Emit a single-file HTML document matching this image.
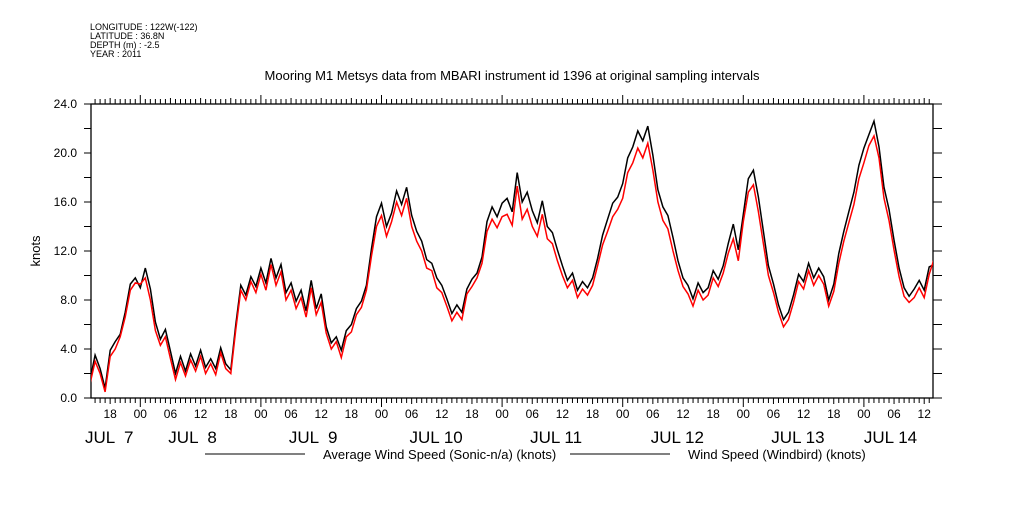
<!DOCTYPE html>
<html><head><meta charset="utf-8"><style>
body{margin:0;background:#fff;}
svg text{font-family:"Liberation Sans",sans-serif;fill:#000;}
</style></head><body>
<svg id="chart" width="1009" height="504" xmlns="http://www.w3.org/2000/svg">
<g font-size="9">
<text x="90" y="30">LONGITUDE : 122W(-122)</text>
<text x="90" y="39">LATITUDE : 36.8N</text>
<text x="90" y="48">DEPTH (m) : -2.5</text>
<text x="90" y="57">YEAR : 2011</text>
</g>
<text x="512" y="80" font-size="13" text-anchor="middle">Mooring M1 Metsys data from MBARI instrument id 1396 at original sampling intervals</text>
<text transform="translate(40,251) rotate(-90)" font-size="13" text-anchor="middle">knots</text>
<g id="axes"></g>
<g id="series"></g>
<g>
<line x1="205" y1="454" x2="305" y2="454" stroke="#000"/>
<text x="323" y="459" font-size="13">Average Wind Speed (Sonic-n/a) (knots)</text>
<line x1="570" y1="454" x2="670" y2="454" stroke="#000"/>
<text x="688" y="459" font-size="13">Wind Speed (Windbird) (knots)</text>
</g>
</svg>
<script>
// hours relative to JUL 8 00:00, one sample per hour
const startHour = -10;
const sonicKnots = [1.5,3.5,2.4,0.8,3.9,4.6,5.2,7.0,9.3,9.8,
9.0,10.6,8.9,6.2,4.8,5.6,3.8,2.0,3.4,2.2,
3.6,2.6,3.9,2.5,3.2,2.4,4.1,2.8,2.3,6.0,
9.2,8.4,9.9,9.1,10.6,9.4,11.4,9.8,10.9,8.6,
9.4,7.9,8.8,7.1,9.6,7.3,8.5,5.8,4.5,5.0,
3.9,5.5,6.0,7.3,7.9,9.2,12.2,14.8,15.9,14.0,
15.1,16.9,15.8,17.2,14.9,13.6,12.8,11.3,11.0,9.8,
9.2,8.1,6.9,7.6,7.0,8.9,9.7,10.2,11.5,14.4,
15.6,14.8,15.9,16.3,15.2,18.4,16.0,16.8,15.3,14.3,
16.1,14.0,13.5,12.1,10.8,9.6,10.2,8.8,9.5,9.0,
9.8,11.4,13.3,14.6,15.9,16.4,17.5,19.6,20.5,21.8,
21.0,22.2,19.8,17.0,15.6,14.9,13.1,11.2,9.8,9.2,
8.1,9.4,8.6,9.0,10.4,9.7,10.8,12.6,14.2,12.1,
15.0,17.9,18.6,16.4,13.6,10.8,9.3,7.6,6.4,7.0,
8.4,10.1,9.5,11.0,9.8,10.6,9.9,8.0,9.3,11.8,
13.6,15.2,16.8,19.0,20.4,21.5,22.6,20.5,17.2,15.4,
12.9,10.6,9.0,8.3,8.9,9.6,8.8,10.7,10.9];
const windbirdKnots = [1.2,3.0,2.0,0.5,3.4,4.0,5.0,6.6,8.8,9.4,
9.3,9.8,8.0,5.5,4.3,5.0,3.2,1.5,2.9,1.8,
3.1,2.2,3.4,2.0,2.8,1.9,3.7,2.4,2.0,5.6,
8.8,8.0,9.5,8.6,10.1,8.8,10.9,9.2,10.3,8.0,
8.8,7.3,8.2,6.6,9.0,6.8,7.8,5.3,4.0,4.6,
3.3,5.0,5.4,6.8,7.4,8.8,11.6,14.0,14.9,13.2,
14.4,16.0,14.9,16.3,14.0,12.8,12.0,10.6,10.4,9.0,
8.6,7.5,6.3,7.0,6.4,8.5,9.1,9.8,11.0,13.6,
14.6,13.9,14.8,15.0,14.1,17.3,14.6,15.4,14.0,13.2,
15.0,13.0,12.6,11.2,10.0,9.0,9.6,8.2,8.9,8.4,
9.2,10.8,12.5,13.6,14.8,15.4,16.3,18.4,19.2,20.4,
19.6,20.8,18.6,16.0,14.5,13.8,12.0,10.4,9.1,8.5,
7.5,8.8,8.0,8.4,9.8,9.1,10.2,11.8,13.0,11.2,
14.4,16.8,17.4,15.2,12.6,10.0,8.6,7.0,5.8,6.4,
7.8,9.5,8.9,10.4,9.2,10.0,9.3,7.5,8.7,11.0,
12.8,14.3,15.8,17.9,19.2,20.6,21.4,19.6,16.3,14.5,
12.1,9.9,8.3,7.8,8.2,9.0,8.2,10.1,11.4];
const yTickLabels = ["0.0","4.0","8.0","12.0","16.0","20.0","24.0"];
const hourLabels = ["18","00","06","12","18","00","06","12","18","00","06","12","18","00","06","12","18","00","06","12","18","00","06","12","18","00","06","12"];
const dayLabels = ["JUL  7","JUL  8","JUL  9","JUL 10","JUL 11","JUL 12","JUL 13","JUL 14"];

const NS="http://www.w3.org/2000/svg";
const L=91,R=933,T=104,B=398,Y0=0,Y1=24;
const X0=140.3, PXH=5.025;
const xOf=h=>X0+h*PXH;
const yOf=v=>B-(v-Y0)/(Y1-Y0)*(B-T);
const hMin=(L-X0)/PXH, hMax=(R-X0)/PXH;
function mk(tag,attrs,parent){const e=document.createElementNS(NS,tag);for(const k in attrs)e.setAttribute(k,attrs[k]);parent.appendChild(e);return e;}
const ax=document.getElementById('axes');
const frame=mk('rect',{x:L,y:T,width:R-L,height:B-T,fill:'none',stroke:'#000','stroke-width':1.3},ax);


for(let v=0;v<=24;v+=2){
  const y=yOf(v);
  const tl=mk('line',{x1:L-7,x2:L,y1:y,y2:y,stroke:'#000'},ax);
  
  
  const tr=mk('line',{x1:R,x2:R+9,y1:y,y2:y,stroke:'#000'},ax);
  
  
}
yTickLabels.forEach(s=>{
  const t=mk('text',{x:L-14,y:yOf(parseFloat(s))+4,'font-size':12,'text-anchor':'end'},ax);
  t.textContent=s;
  
  
});
for(let h=Math.ceil(hMin);h<=hMax;h++){
  const x=xOf(h), major=(h%24===0), mid=(h%6===0);
  const len=major?9:(mid?6:5);
  const tb=mk('line',{x1:x,x2:x,y1:B,y2:B+len,stroke:'#000'},ax);
  
  
  const tt=mk('line',{x1:x,x2:x,y1:T-len,y2:T,stroke:'#000'},ax);
  
  
}
hourLabels.forEach((s,i)=>{
  const h=-6+i*6;
  const t=mk('text',{x:xOf(h),y:418,'font-size':12,'text-anchor':'middle'},ax);
  t.textContent=s;
  
  
});
dayLabels.forEach((s,i)=>{
  let x;
  if(i===0) x=85; else if(i===dayLabels.length-1) x=xOf((i-1)*24); else x=xOf((i-1)*24)+28;
  const t=mk('text',{x:x,y:443,'font-size':17},ax);
  t.setAttribute('style','white-space:pre');
  t.textContent=s;
  
  
});
const sg=document.getElementById('series');
const defs=mk('defs',{},sg);
const cp=mk('clipPath',{id:'clip'},defs);
mk('rect',{x:L,y:T,width:R-L,height:B-T},cp);
function line(vals,color,name){
  const pts=vals.map((v,i)=>xOf(startHour+i).toFixed(1)+','+yOf(v).toFixed(1)).join(' ');
  const p=mk('polyline',{points:pts,fill:'none',stroke:color,'stroke-width':1.5,'clip-path':'url(#clip)'},sg);
  
  
}
line(sonicKnots,'#000','sonic-wind-line');
line(windbirdKnots,'#ff0000','windbird-wind-line');
</script>
</body></html>
